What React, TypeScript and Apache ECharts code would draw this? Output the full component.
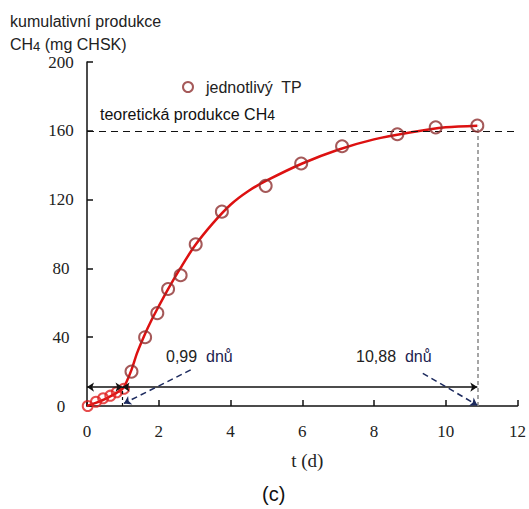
import React, { useEffect, useRef } from "react";
import * as echarts from "echarts";

const xTicks = [0, 2, 4, 6, 8, 10, 12];
const yTicks = [0, 40, 80, 120, 160, 200];

// early (lag phase) measurements
const lagX = [0.02, 0.25, 0.45, 0.65, 0.83, 1.03];
const lagY = [0, 2.5, 4.5, 6, 8, 10];

// individual TP measurements
const tpX = [1.24, 1.62, 1.96, 2.26, 2.61, 3.03, 3.76, 4.98, 5.97, 7.11, 8.65, 9.72, 10.88];
const tpY = [20, 40, 54, 68, 76, 94, 113, 128, 141, 151, 158, 162, 163];

// fitted curve
const curveX = [0, 0.5, 0.99, 1.1, 1.24, 1.4, 1.62, 1.8, 2, 2.26, 2.6, 3, 3.5, 4, 4.5, 5, 6, 7, 8, 9, 10, 10.88];
const curveY = [0, 4, 10, 14, 21, 31, 42, 50, 58, 68, 80, 93, 106, 117, 125, 131, 141, 149, 155, 159, 162, 163];

const theoretical = 160;
const lagTime = 0.99;
const endTime = 10.88;
const arrowLevel = 11;

export default function App() {
  const ref = useRef<HTMLDivElement>(null);
  useEffect(() => {
    if (!ref.current) return;
    const chart = echarts.init(ref.current, undefined, { renderer: "svg" });
    const sans = "Liberation Sans";
    const serif = "Liberation Serif";
    chart.setOption({
      animation: false,
      backgroundColor: "#ffffff",
      title: {
        left: 10,
        top: 10,
        padding: 0,
        text: "kumulativní produkce\nCH{sub|4} (mg CHSK)",
        textStyle: {
          fontFamily: sans,
          fontSize: 16,
          fontWeight: "normal",
          color: "#222",
          lineHeight: 23,
          rich: {
            sub: { fontFamily: sans, fontSize: 13, color: "#222", padding: [4, 0, 0, 0], lineHeight: 23 },
          },
        },
      },
      legend: {
        left: 177,
        top: 74,
        itemWidth: 10,
        itemHeight: 10,
        data: ["jednotlivý  TP"],
        textStyle: { fontFamily: sans, fontSize: 16, color: "#222", padding: [0, 0, 0, 8] },
      },
      grid: { left: 87, right: 11, top: 62, bottom: 103 },
      xAxis: {
        type: "value",
        min: 0,
        max: 12,
        interval: 2,
        name: "t (d)",
        nameLocation: "middle",
        nameGap: 45,
        nameTextStyle: { fontFamily: serif, fontSize: 19, color: "#222", padding: [0, 0, 0, 10] },
        axisLine: { lineStyle: { color: "#111", width: 1.5 } },
        axisTick: { inside: true, length: 6, lineStyle: { color: "#111", width: 1.5 } },
        axisLabel: {
          margin: 17,
          fontFamily: serif,
          fontSize: 17,
          color: "#222",
          formatter: (v: number) => (xTicks.includes(v) ? String(v) : ""),
        },
        splitLine: { show: false },
      },
      yAxis: {
        type: "value",
        min: 0,
        max: 200,
        interval: 40,
        axisLine: { show: true, lineStyle: { color: "#111", width: 1.5 } },
        axisTick: { show: true, inside: true, length: 6, lineStyle: { color: "#111", width: 1.5 } },
        axisLabel: {
          margin: 26,
          align: "center",
          fontFamily: serif,
          fontSize: 17,
          color: "#222",
          formatter: (v: number) => (yTicks.includes(v) ? String(v) : ""),
        },
        splitLine: { show: false },
      },
      graphic: [
        {
          type: "text",
          left: 100,
          top: 106,
          style: {
            text: "teoretická produkce CH{sub|4}",
            font: `16px "${sans}"`,
            fill: "#111",
            rich: { sub: { fontSize: 14, fontFamily: sans, fill: "#111", padding: [2, 0, 0, 0] } },
          },
        },
        {
          type: "text",
          left: 166,
          top: 348,
          style: {
            text: "0,99  {d|dnů}",
            font: `16px "${sans}"`,
            fill: "#222",
            rich: { d: { fontSize: 16, fontFamily: sans, fill: "#1c2350" } },
          },
        },
        {
          type: "text",
          left: 356,
          top: 348,
          style: {
            text: "10,88  {d|dnů}",
            font: `16px "${sans}"`,
            fill: "#222",
            rich: { d: { fontSize: 16, fontFamily: sans, fill: "#1c2350" } },
          },
        },
        {
          type: "text",
          left: 262,
          top: 484,
          style: { text: "(c)", font: `20px "${sans}"`, fill: "#111" },
        },
      ],
      series: [
        {
          name: "fit",
          type: "line",
          data: curveX.map((x, i) => [x, curveY[i]]),
          smooth: 0.3,
          symbol: "none",
          lineStyle: { color: "#dd1111", width: 2.5 },
          z: 3,
          markLine: {
            silent: true,
            symbolSize: 7,
            label: { show: false },
            data: [
              [
                { coord: [0, theoretical], symbol: "none", lineStyle: { color: "#111", type: [7, 5], width: 1.2 } },
                { coord: [12, theoretical], symbol: "none" },
              ],
              [
                { coord: [endTime, 0], symbol: "none", lineStyle: { color: "#888", type: [4, 3], width: 1.5 } },
                { coord: [endTime, 163], symbol: "none" },
              ],
              [
                { coord: [lagTime, 0], symbol: "none", lineStyle: { color: "#111", type: [3, 3], width: 1.2 } },
                { coord: [lagTime, arrowLevel], symbol: "none" },
              ],
              [
                { coord: [0, arrowLevel], symbol: "arrow", lineStyle: { color: "#111", type: "solid", width: 1.5 } },
                { coord: [lagTime, arrowLevel], symbol: "arrow" },
              ],
              [
                { coord: [lagTime, arrowLevel], symbol: "arrow", lineStyle: { color: "#111", type: "solid", width: 1.5 } },
                { coord: [endTime, arrowLevel], symbol: "arrow" },
              ],
              [
                { coord: [2.89, 21], symbol: "none", lineStyle: { color: "#1c2a5e", type: [6, 4], width: 1.5 } },
                { coord: [1.03, 1.5], symbol: "arrow" },
              ],
              [
                { coord: [9.36, 19], symbol: "none", lineStyle: { color: "#1c2a5e", type: [6, 4], width: 1.5 } },
                { coord: [10.88, 0.5], symbol: "arrow" },
              ],
            ],
          },
        },
        {
          name: "lag",
          type: "scatter",
          data: lagX.map((x, i) => [x, lagY[i]]),
          symbol: "circle",
          symbolSize: 10,
          itemStyle: { color: "rgba(0,0,0,0)", borderColor: "#e02020", borderWidth: 2 },
          z: 4,
        },
        {
          name: "jednotlivý  TP",
          type: "scatter",
          data: tpX.map((x, i) => [x, tpY[i]]),
          symbol: "circle",
          symbolSize: 12,
          itemStyle: { color: "rgba(0,0,0,0)", borderColor: "#8e3030", borderWidth: 2 },
          z: 5,
        },
      ],
    });
    return () => chart.dispose();
  }, []);
  return <div ref={ref} style={{ position: "fixed", left: 0, top: 0, width: 529, height: 509 }} />;
}
